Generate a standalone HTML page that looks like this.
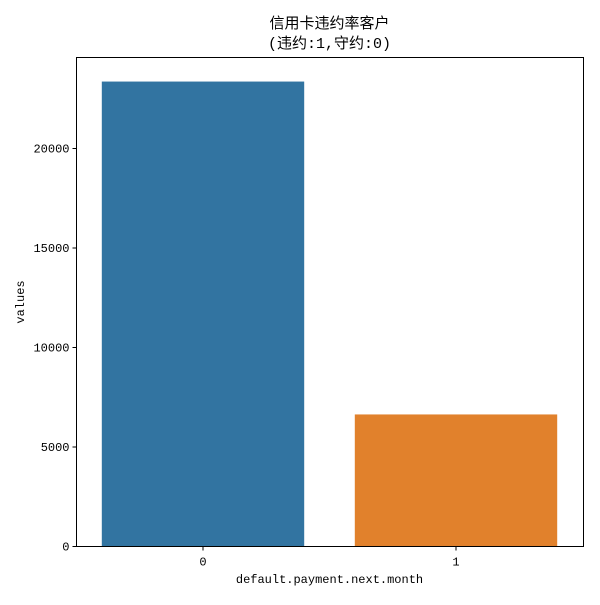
<!DOCTYPE html>
<html><head><meta charset="utf-8"><style>
body{margin:0;background:#fff}
svg text{font-family:"Liberation Mono","Noto Sans CJK SC",monospace;fill:#000}
</style></head><body>
<svg id="chart" width="600" height="600" xmlns="http://www.w3.org/2000/svg">
<rect width="600" height="600" fill="#fff"/>
<text x="329.5" y="28" font-size="15" text-anchor="middle">信用卡违约率客户</text>
<text x="329.5" y="48" font-size="15" text-anchor="middle">(违约:1,守约:0)</text>
<g id="bars"></g>
<g id="yticks"></g>
<g id="xticks"></g>
<rect x="76.5" y="57.5" width="507" height="489" fill="none" stroke="#000" stroke-width="1"/>
<text x="329.5" y="583" font-size="12" text-anchor="middle">default.payment.next.month</text>
<text transform="translate(24,302) rotate(-90)" font-size="12" text-anchor="middle">values</text>
</svg>
<script>
const categories=["0","1"];
const values=[23364,6636];
const colors=["#3274a1","#e1812c"];
const yTicks=[0,5000,10000,15000,20000];
const NS="http://www.w3.org/2000/svg";
const x0=76.5,x1=582.5,yBase=546.5,pxPerUnit=398/20000;
const y=v=>yBase-v*pxPerUnit;
const band=(x1-x0)/categories.length;
const xc=i=>x0+band*(i+0.5);
const bars=document.getElementById('bars');
values.forEach((v,i)=>{
  const r=document.createElementNS(NS,'rect');
  r.setAttribute('x',xc(i)-band*0.4);r.setAttribute('width',band*0.8);
  r.setAttribute('y',y(v));r.setAttribute('height',yBase-y(v));
  r.setAttribute('fill',colors[i]);
  
  
  bars.appendChild(r);
});
const yt=document.getElementById('yticks');
yTicks.forEach(t=>{
  const l=document.createElementNS(NS,'line');
  l.setAttribute('x1',x0-4);l.setAttribute('x2',x0);l.setAttribute('y1',y(t));l.setAttribute('y2',y(t));l.setAttribute('stroke','#000');
  
  
  yt.appendChild(l);
  const tx=document.createElementNS(NS,'text');
  tx.setAttribute('x',x0-7);tx.setAttribute('y',y(t)+4);tx.setAttribute('font-size','12');tx.setAttribute('text-anchor','end');
  tx.textContent=t;
  
  
  yt.appendChild(tx);
});
const xt=document.getElementById('xticks');
categories.forEach((c,i)=>{
  const l=document.createElementNS(NS,'line');
  l.setAttribute('x1',xc(i));l.setAttribute('x2',xc(i));l.setAttribute('y1',yBase);l.setAttribute('y2',yBase+4);l.setAttribute('stroke','#000');
  
  
  xt.appendChild(l);
  const tx=document.createElementNS(NS,'text');
  tx.setAttribute('x',xc(i));tx.setAttribute('y',yBase+19);tx.setAttribute('font-size','12');tx.setAttribute('text-anchor','middle');
  tx.textContent=c;
  
  
  xt.appendChild(tx);
});
</script>
</body></html>
